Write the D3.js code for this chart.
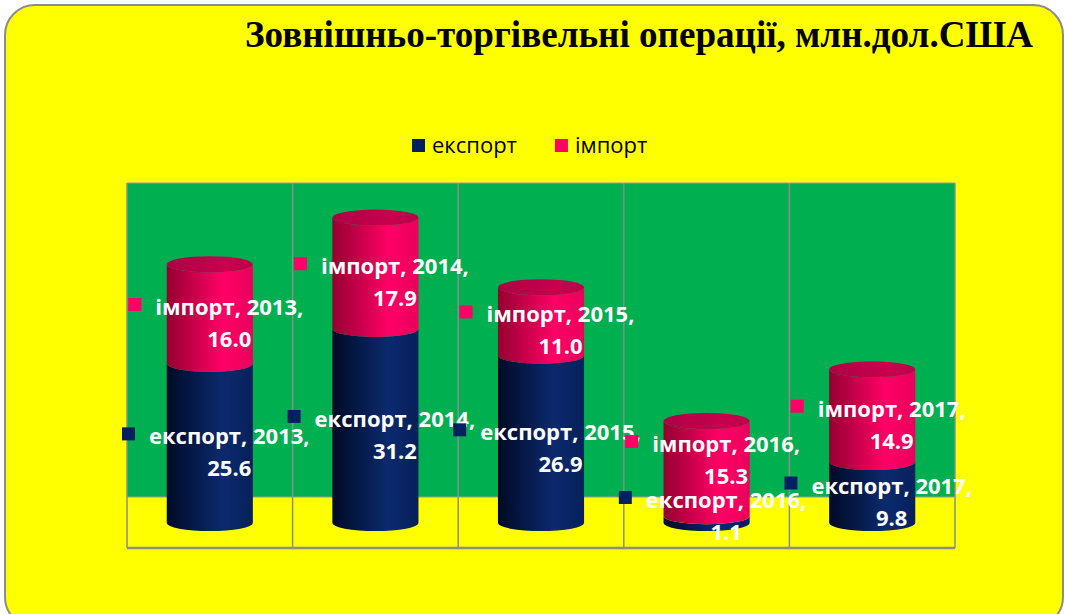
<!DOCTYPE html>
<html>
<head>
<meta charset="utf-8">
<script src="https://cdn.jsdelivr.net/npm/d3@7/dist/d3.min.js"></script>
<style>
  body { margin: 0; background: #fff; }
  svg { display: block; }
</style>
</head>
<body>
<svg id="chart"></svg>
<script>
// data
const years = ['2013', '2014', '2015', '2016', '2017'];
const exportValues = [25.6, 31.2, 26.9, 1.1, 9.8];
const importValues = [16.0, 17.9, 11.0, 15.3, 14.9];
const seriesNames = ['експорт', 'імпорт'];
const titleText = 'Зовнішньо-торгівельні операції, млн.дол.США';

const width = 1065;
const height = 614;

const plot = { left: 127, right: 955, top: 183, bottom: 548, floor: 497 };
const base = 523; // y of the cylinders' base centre

const colors = {
  'експорт': { key: '#002060', dark: '#000a26', mid: '#0b2a6e', right: '#06205a', top: '#041a50' },
  'імпорт':  { key: '#ff0066', dark: '#94002f', mid: '#ff0066', right: '#ea005c', top: '#c8004e' }
};

const svg = d3.select('#chart')
    .attr('width', width)
    .attr('height', height);

// outer yellow box
svg.append('rect')
    .attr('x', 5).attr('y', 5)
    .attr('width', 1058).attr('height', 622)
    .attr('rx', 30)
    .style('fill', '#ffff00')
    .style('stroke', '#8c8c8c')
    .style('stroke-width', '2px');

// title
svg.append('text')
    .attr('x', 245).attr('y', 47)
    .attr('textLength', 788)
    .attr('lengthAdjust', 'spacingAndGlyphs')
    .style('font-family', '"Liberation Serif", "DejaVu Serif", serif')
    .style('font-weight', 'bold')
    .style('font-size', '38px')
    .style('fill', '#000')
    .text(titleText);

// gradients
const defs = svg.append('defs');
seriesNames.forEach((s, i) => {
  let c = colors[s];
  let g = defs.append('linearGradient').attr('id', 'side' + i)
      .attr('x1', 0).attr('x2', 1).attr('y1', 0).attr('y2', 0);
  g.append('stop').attr('offset', 0).attr('stop-color', c.dark);
  g.append('stop').attr('offset', 0.65).attr('stop-color', c.mid);
  g.append('stop').attr('offset', 1).attr('stop-color', c.right);
  let t = defs.append('linearGradient').attr('id', 'top' + i)
      .attr('x1', 0).attr('x2', 1).attr('y1', 0).attr('y2', 0);
  t.append('stop').attr('offset', 0).attr('stop-color', d3.color(c.top).darker(0.4));
  t.append('stop').attr('offset', 0.7).attr('stop-color', c.top);
  t.append('stop').attr('offset', 1).attr('stop-color', d3.color(c.top).darker(0.2));
});

// scales
const x = d3.scaleBand()
    .domain(years)
    .range([plot.left, plot.right]);

const y = d3.scaleLinear()
    .domain([0, 50])
    .range([base, base - 311]);

// walls
svg.append('rect')
    .attr('x', plot.left).attr('y', plot.top)
    .attr('width', plot.right - plot.left).attr('height', plot.floor - plot.top)
    .style('fill', '#00b050');

svg.append('rect')
    .attr('x', plot.left).attr('y', plot.floor)
    .attr('width', plot.right - plot.left).attr('height', plot.bottom - plot.floor)
    .style('fill', '#ffff00');

let gridX = years.map(d => x(d)).concat([plot.right]);
svg.selectAll('line.grid')
    .data(gridX)
  .enter().append('line')
    .attr('class', 'grid')
    .attr('x1', d => d).attr('x2', d => d)
    .attr('y1', plot.top).attr('y2', plot.bottom)
    .style('stroke', '#8c8c8c')
    .style('stroke-width', '1.5px');

[plot.top, plot.floor].forEach(v => {
  svg.append('line')
      .attr('x1', plot.left).attr('x2', plot.right)
      .attr('y1', v).attr('y2', v)
      .style('stroke', '#9a9a9a')
      .style('stroke-width', '1px');
});
svg.append('line')
    .attr('x1', plot.left).attr('x2', plot.right)
    .attr('y1', plot.bottom).attr('y2', plot.bottom)
    .style('stroke', '#8c8c8c')
    .style('stroke-width', '2.5px');

// stacked data
let stacked = years.map((yr, i) => {
  let e = exportValues[i], m = importValues[i];
  return {
    year: yr,
    segs: [
      { series: 0, year: yr, value: e, y0: 0, y1: e },
      { series: 1, year: yr, value: m, y0: e, y1: e + m }
    ]
  };
});

const barW = x.bandwidth() * 0.52;
const rx = barW / 2;
const ry = 8;

function sidePath(cx, yTop, yBot) {
  let x0 = cx - rx, x1 = cx + rx;
  return `M${x0},${yTop} L${x0},${yBot} A${rx},${ry} 0 0 0 ${x1},${yBot} ` +
         `L${x1},${yTop} A${rx},${ry} 0 0 1 ${x0},${yTop} Z`;
}

let bars = svg.selectAll('g.bar')
    .data(stacked)
  .enter().append('g')
    .attr('class', 'bar');

bars.each(function(d) {
  let g = d3.select(this);
  let cx = x(d.year) + x.bandwidth() / 2;
  d.segs.forEach(s => {
    g.append('path')
        .attr('d', sidePath(cx, y(s.y1), y(s.y0)))
        .style('fill', `url(#side${s.series})`);
  });
  let top = d.segs[d.segs.length - 1];
  g.append('ellipse')
      .attr('cx', cx).attr('cy', y(top.y1))
      .attr('rx', rx).attr('ry', ry)
      .style('fill', `url(#top${top.series})`);
});

// data labels
const labelFont = '"Open Sans", "Noto Sans", sans-serif';
const measure = svg.append('text')
    .style('font-family', labelFont)
    .style('font-weight', 'bold')
    .style('font-size', '22px')
    .style('visibility', 'hidden');

function textW(str) {
  measure.text(str);
  return measure.node().getComputedTextLength();
}

let labels = [];
stacked.forEach(d => {
  let cx = x(d.year) + x.bandwidth() / 2;
  let prevLine1 = null;
  d.segs.forEach(s => {
    let line1 = `${seriesNames[s.series]}, ${s.year},`;
    let line2 = s.value.toFixed(1);
    let tw = textW(line1);
    let bw = 13 + 14 + tw;
    let left = cx + 6 - bw / 2;
    let base1 = (y(s.y0) + y(s.y1)) / 2 + 1;
    if (base1 + 32 > plot.bottom - 8) base1 = plot.bottom - 8 - 32;
    if (prevLine1 !== null && base1 + 32 > prevLine1 - 24) base1 = prevLine1 - 24 - 32;
    prevLine1 = base1;
    labels.push({ series: s.series, line1, line2, left, textX: left + 27, tw, base1 });
  });
});
measure.remove();

let lg = svg.selectAll('g.label')
    .data(labels)
  .enter().append('g')
    .attr('class', 'label');

lg.append('rect')
    .attr('x', d => d.left)
    .attr('y', d => d.base1 - 17)
    .attr('width', 13).attr('height', 13)
    .style('fill', d => colors[seriesNames[d.series]].key);

lg.append('text')
    .attr('x', d => d.textX)
    .attr('y', d => d.base1)
    .style('font-family', labelFont)
    .style('font-weight', 'bold')
    .style('font-size', '22px')
    .style('fill', '#fff')
    .text(d => d.line1);

lg.append('text')
    .attr('x', d => d.textX + d.tw / 2)
    .attr('y', d => d.base1 + 32)
    .attr('text-anchor', 'middle')
    .style('font-family', labelFont)
    .style('font-weight', 'bold')
    .style('font-size', '22px')
    .style('fill', '#fff')
    .text(d => d.line2);

// legend
let legend = svg.append('g')
    .attr('transform', 'translate(412,139)');

let lx = 0;
seriesNames.forEach(s => {
  let item = legend.append('g').attr('transform', `translate(${lx},0)`);
  item.append('rect')
      .attr('width', 13).attr('height', 13)
      .style('fill', colors[s].key);
  let t = item.append('text')
      .attr('x', 20).attr('y', 14)
      .style('font-family', labelFont)
      .style('font-size', '22px')
      .style('fill', '#000')
      .text(s);
  lx += 20 + t.node().getComputedTextLength() + 38;
});
</script>
</body>
</html>
